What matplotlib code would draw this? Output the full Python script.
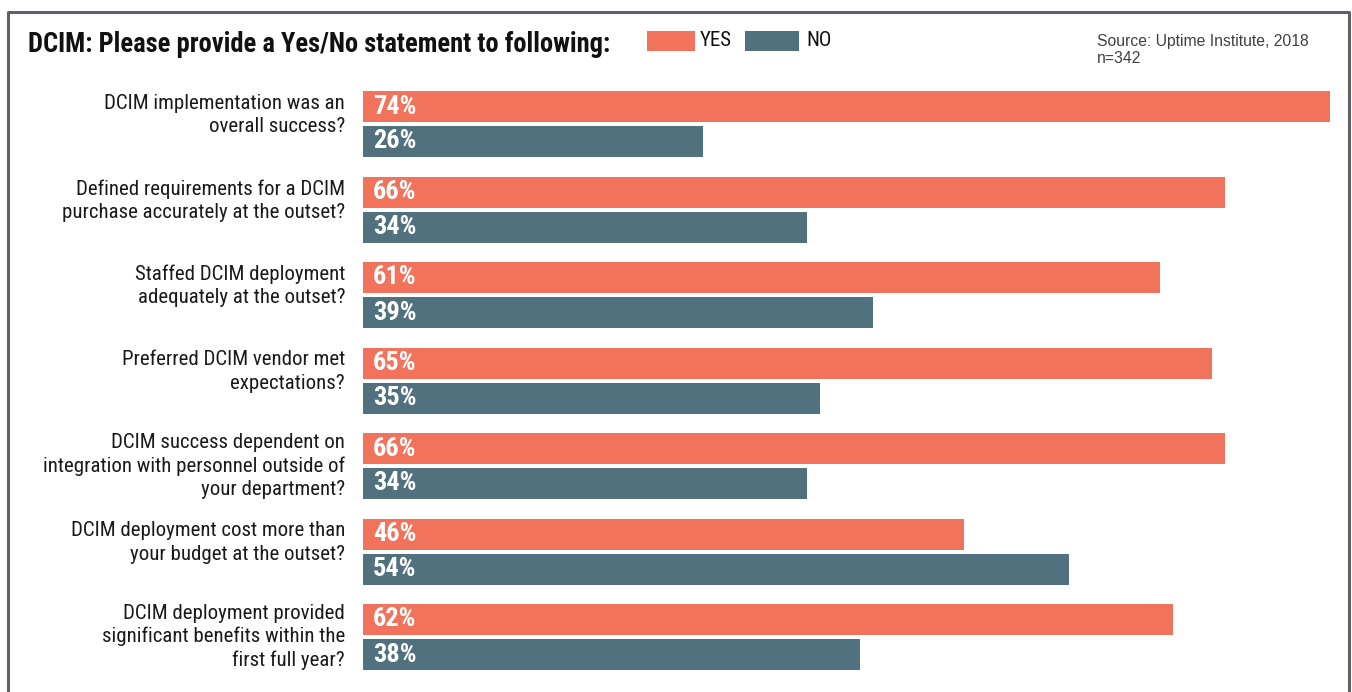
import matplotlib
matplotlib.use('Agg')
import matplotlib.pyplot as plt
from matplotlib import font_manager as fm
from matplotlib.lines import Line2D
from matplotlib.patches import Rectangle

# survey answers (percent)
questions = [
    "DCIM implementation was an\noverall success?",
    "Defined requirements for a DCIM\npurchase accurately at the outset?",
    "Staffed DCIM deployment\nadequately at the outset?",
    "Preferred DCIM vendor met\nexpectations?",
    "DCIM success dependent on\nintegration with personnel outside of\nyour department?",
    "DCIM deployment cost more than\nyour budget at the outset?",
    "DCIM deployment provided\nsignificant benefits within the\nfirst full year?",
]
yes_vals = [74, 66, 61, 65, 66, 46, 62]
no_vals = [26, 34, 39, 35, 34, 54, 38]
series_names = ["YES", "NO"]

title = "DCIM: Please provide a Yes/No statement to following:"
source = "Source: Uptime Institute, 2018\nn=342"

YES_COLOR = '#F1735C'
NO_COLOR = '#52717F'

W, H = 1352, 692


def _weight(w):
    if isinstance(w, str):
        return fm.weight_dict.get(w, 400)
    return w


def narrow_font(bold):
    # look for a condensed sans, fall back to Roboto
    fams = ['Roboto', 'Noto Sans', 'Open Sans', 'Liberation Sans', 'DejaVu Sans', 'Lato', 'Inter']
    target = 700 if bold else 400
    best, best_score = None, None
    for f in fm.fontManager.ttflist:
        narrow = (f.stretch in ('condensed', 'semi-condensed', 'extra-condensed')
                  or 'Condensed' in f.name or 'Narrow' in f.name
                  or 'Condensed' in f.fname or 'Narrow' in f.fname)
        if not narrow or f.style != 'normal':
            continue
        if 'Semi' in f.fname or 'Extra' in f.fname:
            continue
        w = _weight(f.weight)
        if abs(w - target) > 100:
            continue
        rank = len(fams)
        for i, fam in enumerate(fams):
            if f.name.startswith(fam):
                rank = i
                break
        score = (rank, abs(w - target))
        if best_score is None or score < best_score:
            best, best_score = f, score
    if best is not None:
        return fm.FontProperties(fname=best.fname)
    return fm.FontProperties(family='Roboto', weight='bold' if bold else 'normal')


font_reg = narrow_font(False)
font_bold = narrow_font(True)


def px(x, y):
    return x / W, 1 - y / H


fig = plt.figure(figsize=(W / 100, H / 100), dpi=100)

# bar area: 0% at x=363px, 74% at x=1330px
ax_left, ax_right = 363, 1330
ax_top, ax_bot = 80, 692
ax = fig.add_axes([ax_left / W, 1 - ax_bot / H, (ax_right - ax_left) / W, (ax_bot - ax_top) / H])

group_px = 85.5
first_center = 124
bar_h = 31 / group_px
off = 17.5 / group_px

n = len(questions)
ys = list(range(n))
ax.barh([y - off for y in ys], yes_vals, height=bar_h, color=YES_COLOR, align='center')
ax.barh([y + off for y in ys], no_vals, height=bar_h, color=NO_COLOR, align='center')

for y, yv, nv in zip(ys, yes_vals, no_vals):
    for yy, v in ((y - off, yv), (y + off, nv)):
        ax.annotate(f"{v}%", xy=(0, yy), xytext=(7.0, 0), textcoords='offset points',
                    ha='left', va='center', color='white', fontproperties=font_bold,
                    fontsize=19)

ax.set_xlim(0, max(yes_vals))
ax.set_ylim((ax_bot - first_center) / group_px, (ax_top - first_center) / group_px)
ax.set_xticks([])
ax.set_yticks([])
for s in ax.spines.values():
    s.set_visible(False)

# question labels, right aligned left of the bars
lab_x = (345 - ax_left) / (ax_right - ax_left)
for y, q in zip(ys, questions):
    nlines = q.count('\n') + 1
    shift = -(3 - nlines) * 9 / group_px
    ax.text(lab_x, y + shift, q, transform=ax.get_yaxis_transform(), ha='right', va='center',
            fontproperties=font_reg, fontsize=15, color='#1a1a1a', linespacing=1.27)

# title
tx, ty = px(28, 52)
fig.text(tx, ty, title, fontproperties=font_bold, fontsize=19.1, color='#111111', va='baseline')

# legend
for (x0, x1, tx0), name, col in zip([(647, 695, 700), (745, 799, 806)], series_names, [YES_COLOR, NO_COLOR]):
    fig.patches.append(Rectangle(px(x0, 51), (x1 - x0) / W, 20 / H, transform=fig.transFigure,
                                 facecolor=col, edgecolor='none'))
    lx, ly = px(tx0, 41)
    fig.text(lx, ly, name, fontproperties=font_reg, fontsize=15, color='#111111', va='center')

# source note
sx, sy = px(1097, 34)
fig.text(sx, sy, source, family='Liberation Sans', fontsize=11.3, color='#404040',
         va='top', linespacing=1.2)

# frame around the chart (open at the bottom)
bx0, by0 = px(8, 12)
bx1, _ = px(1349, 12)
fig.lines.append(Line2D([bx0, bx0, bx1, bx1], [0, by0, by0, 0], transform=fig.transFigure,
                        color='#5f6068', linewidth=2.2))

fig.savefig('out.png', dpi=100)
